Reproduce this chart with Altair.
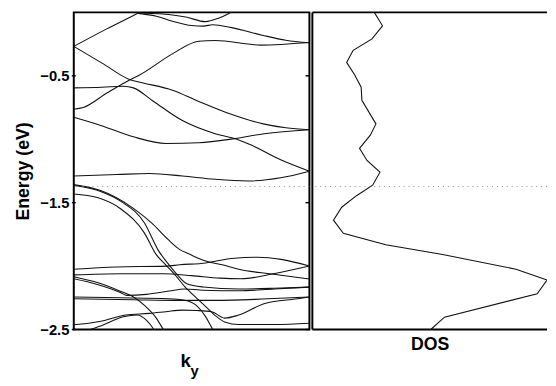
import altair as alt
import pandas as pd

# ---------------- data ----------------
# band structure: (k, E) points, k in [0, 1] along k_y, E in eV
u1 = [(0.0, -0.268), (0.14, -0.13), (0.274, -0.005), (0.31, 0.03)]
u2 = [(0.274, -0.008), (0.35, -0.03), (0.42, -0.07), (0.5, -0.104), (0.55, -0.108),
      (0.59, -0.097), (0.67, -0.12), (0.8, -0.18), (0.9, -0.22), (1.0, -0.24)]
u3 = [(0.26, 0.01), (0.28, -0.003), (0.378, -0.013), (0.427, -0.023), (0.475, -0.036),
      (0.558, -0.073), (0.614, -0.046), (0.656, -0.01), (0.68, 0.015)]
u4 = [(0.0, -0.268), (0.12, -0.40), (0.239, -0.531), (0.294, -0.556), (0.419, -0.613),
      (0.526, -0.698), (0.665, -0.801), (0.804, -0.879), (0.9, -0.91), (1.0, -0.925)]
u5 = [(0.0, -0.763), (0.04, -0.75), (0.142, -0.634), (0.239, -0.531), (0.281, -0.492),
      (0.42, -0.325), (0.53, -0.227), (0.6, -0.222), (0.794, -0.258), (1.0, -0.238)]
u6 = [(0.0, -0.595), (0.12, -0.59), (0.211, -0.582), (0.253, -0.595), (0.336, -0.698),
      (0.461, -0.853), (0.6, -0.956), (0.683, -0.995), (0.753, -1.046), (0.878, -1.162),
      (1.0, -1.252)]
u7 = [(0.0, -0.827), (0.114, -0.891), (0.253, -0.981), (0.392, -1.033), (0.531, -1.028),
      (0.683, -0.995), (0.808, -0.956), (1.0, -0.925)]
u8 = [(0.0, -1.29), (0.183, -1.278), (0.322, -1.27), (0.461, -1.29), (0.6, -1.316),
      (0.739, -1.329), (0.878, -1.304), (1.0, -1.252)]
x1 = [(0.0, -1.358), (0.114, -1.405), (0.253, -1.545), (0.33, -1.66), (0.4, -1.79),
      (0.45, -1.87), (0.49, -1.905), (0.56, -1.96), (0.63, -1.99), (0.7, -2.025),
      (0.84, -2.063), (1.0, -2.102)]
x2 = [(0.0, -1.365), (0.114, -1.412), (0.2, -1.49), (0.3, -1.66), (0.36, -1.88),
      (0.4, -1.98), (0.44, -2.07), (0.48, -2.14), (0.55, -2.165), (0.7, -2.18),
      (0.85, -2.175), (1.0, -2.166)]
x3 = [(0.0, -1.432), (0.1, -1.46), (0.2, -1.55), (0.3, -1.74), (0.35, -1.91),
      (0.39, -1.99), (0.43, -2.07), (0.47, -2.16), (0.52, -2.25), (0.56, -2.32),
      (0.6, -2.39), (0.64, -2.44), (0.7, -2.46), (0.85, -2.46), (1.0, -2.45)]
b1 = [(0.0, -2.025), (0.18, -2.007), (0.39, -2.0), (0.45, -1.99), (0.56, -1.975),
      (0.67, -1.94), (0.78, -1.93), (0.88, -1.947), (1.0, -2.0)]
b2 = [(0.0, -2.069), (0.2, -2.06), (0.38, -2.06), (0.5, -2.075), (0.62, -2.095),
      (0.71, -2.10), (0.84, -2.063), (1.0, -2.0)]
b3 = [(0.0, -2.084), (0.1, -2.13), (0.2, -2.2), (0.25, -2.24), (0.3, -2.31),
      (0.35, -2.41), (0.38, -2.5), (0.4, -2.56)]
b4 = [(0.0, -2.1), (0.1, -2.145), (0.2, -2.21), (0.225, -2.231), (0.308, -2.223),
      (0.405, -2.197), (0.47, -2.18), (0.55, -2.19), (0.7, -2.195), (0.85, -2.18),
      (1.0, -2.166)]
b5 = [(0.0, -2.243), (0.2, -2.25), (0.4, -2.258), (0.47, -2.27), (0.52, -2.31),
      (0.56, -2.4), (0.59, -2.5), (0.61, -2.56)]
b6 = [(0.0, -2.257), (0.25, -2.265), (0.45, -2.27), (0.6, -2.27), (0.8, -2.26),
      (1.0, -2.243)]
r1 = [(0.0, -2.463), (0.11, -2.437), (0.22, -2.386), (0.32, -2.373), (0.39, -2.36),
      (0.46, -2.347), (0.52, -2.35), (0.586, -2.36), (0.64, -2.41), (0.70, -2.386),
      (0.81, -2.295), (0.95, -2.257), (1.0, -2.243)]
r2 = [(0.0, -2.56), (0.07, -2.5), (0.11, -2.475), (0.21, -2.4), (0.27, -2.385),
      (0.31, -2.43), (0.34, -2.5), (0.36, -2.56)]

band_names = ["u1", "u2", "u3", "u4", "u5", "u6", "u7", "u8", "x1", "x2", "x3",
              "b1", "b2", "b3", "b4", "b5", "b6", "r1", "r2"]
band_points = [u1, u2, u3, u4, u5, u6, u7, u8, x1, x2, x3,
               b1, b2, b3, b4, b5, b6, r1, r2]

# density of states: energy (eV) and DOS (arb. units)
dos_energy = [0.0, -0.106, -0.209, -0.299, -0.394, -0.492, -0.590, -0.693, -0.879,
              -0.968, -1.072, -1.167, -1.260, -1.362, -1.445, -1.536, -1.638, -1.741,
              -1.832, -1.909, -2.025, -2.110, -2.218, -2.403, -2.496]
dos_value = [0.264, 0.299, 0.254, 0.174, 0.146, 0.180, 0.208, 0.211, 0.271, 0.247,
             0.201, 0.233, 0.288, 0.257, 0.188, 0.125, 0.090, 0.132, 0.313, 0.555,
             0.868, 1.0, 0.958, 0.563, 0.507]

fermi_level = [-1.373]
y_tick_values = [-0.5, -1.5, -2.5]
energy_domain = [-2.5, 0.0]
k_domain = [0.0, 1.0]
dos_domain = [0.0, 1.0]

y_title = "Energy (eV)"
k_title = "k"
k_sub = "y"
dos_title = "DOS"

# ---------------- build tables ----------------
rows = []
for name, pts in zip(band_names, band_points):
    for i, (k, e) in enumerate(pts):
        rows.append({"band": name, "k": k, "E": e, "i": i})
bands_df = pd.DataFrame(rows)
dos_df = pd.DataFrame({"E": dos_energy, "dos": dos_value, "i": list(range(len(dos_energy)))})
fermi_df = pd.DataFrame({"E": fermi_level})
ticks_df = pd.DataFrame({"E": y_tick_values})

FONT = "Liberation Sans"
W_L, W_R, H = 240, 239, 323

y_scale = alt.Scale(domain=energy_domain, nice=False, zero=False)
k_scale = alt.Scale(domain=k_domain, nice=False, zero=False)

y_axis = alt.Axis(values=y_tick_values, title=y_title, ticks=False, domain=False, grid=False,
                  labelFont=FONT, labelFontSize=15, labelFontWeight="bold", labelColor="black",
                  labelPadding=5, labelFlush=False, labelOverlap=False,
                  titleFont=FONT, titleFontSize=18, titleFontWeight="bold", titleColor="black",
                  titlePadding=7)

bands = alt.Chart(bands_df).mark_line(color="#111111", strokeWidth=1.1, clip=True,
                                      interpolate="monotone").encode(
    x=alt.X("k:Q", scale=k_scale, axis=None),
    y=alt.Y("E:Q", scale=y_scale, axis=y_axis),
    detail="band:N",
    order="i:Q",
)

fermi_left = alt.Chart(fermi_df).mark_rule(color="#8a8a8a", strokeWidth=1,
                                            strokeDash=[1, 4]).encode(y=alt.Y("E:Q"))

ticks_left = alt.Chart(ticks_df).mark_rule(color="black", strokeWidth=1.5).encode(
    y=alt.Y("E:Q"), x=alt.value(-2), x2=alt.value(2))
ticks_right = alt.Chart(ticks_df).mark_rule(color="black", strokeWidth=1.5).encode(
    y=alt.Y("E:Q"), x=alt.value(W_L - 4), x2=alt.value(W_L))

k_text = alt.Chart(pd.DataFrame({"t": [k_title]})).mark_text(
    font=FONT, fontSize=19, fontWeight="bold", color="black", align="center",
    baseline="alphabetic").encode(text="t:N", x=alt.value(114), y=alt.value(361))
k_sub_text = alt.Chart(pd.DataFrame({"t": [k_sub]})).mark_text(
    font=FONT, fontSize=15, fontWeight="bold", color="black", align="center",
    baseline="alphabetic").encode(text="t:N", x=alt.value(123), y=alt.value(370))

left = alt.layer(bands, fermi_left, ticks_left, ticks_right, k_text, k_sub_text).properties(
    width=W_L, height=H, view=alt.ViewBackground(stroke="black", strokeWidth=2))

dos_line = alt.Chart(dos_df).mark_line(color="#111111", strokeWidth=1.1, clip=True).encode(
    x=alt.X("dos:Q", scale=alt.Scale(domain=dos_domain, nice=False, zero=False),
            axis=alt.Axis(title=dos_title, labels=False, ticks=False, domain=False, grid=False,
                          titleFont=FONT, titleFontSize=18, titleFontWeight="bold",
                          titleColor="black", titlePadding=6)),
    y=alt.Y("E:Q", scale=y_scale, axis=None),
    order="i:Q",
)
fermi_right = alt.Chart(fermi_df).mark_rule(color="#8a8a8a", strokeWidth=1,
                                             strokeDash=[1, 4]).encode(y=alt.Y("E:Q"))
border_top = alt.Chart(pd.DataFrame({"E": [energy_domain[1]]})).mark_rule(
    color="black", strokeWidth=2).encode(y=alt.Y("E:Q"))
border_bottom = alt.Chart(pd.DataFrame({"E": [energy_domain[0]]})).mark_rule(
    color="black", strokeWidth=2).encode(y=alt.Y("E:Q"))
border_left = alt.Chart(pd.DataFrame({"d": [dos_domain[0]]})).mark_rule(
    color="black", strokeWidth=2).encode(x=alt.X("d:Q"))

right = alt.layer(dos_line, fermi_right, border_top, border_bottom, border_left).properties(
    width=W_R, height=H, view=alt.ViewBackground(strokeOpacity=0, strokeWidth=0))

chart = alt.hconcat(left, right, spacing=0).properties(
    padding={"left": 6, "top": 0, "right": 0, "bottom": 0}
).configure_view(stroke="transparent").configure(background="white")

chart.save("out.html", embed_options={"renderer": "svg", "actions": False})
